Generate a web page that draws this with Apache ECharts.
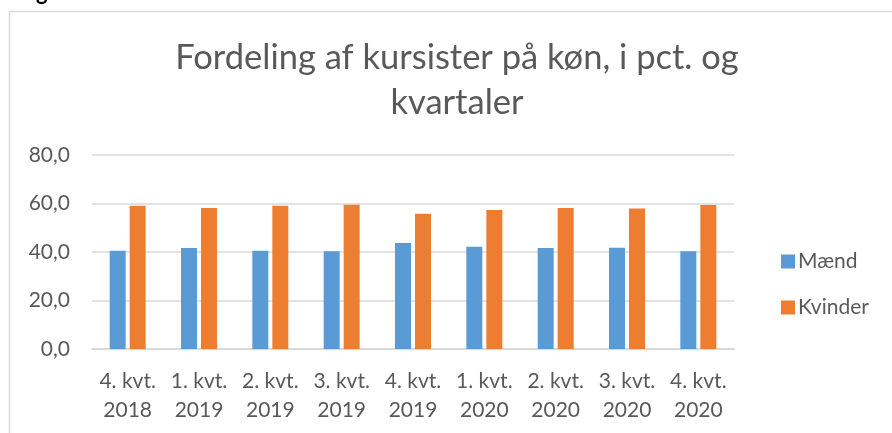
<!DOCTYPE html>
<html><head><meta charset="utf-8">
<script src="https://cdn.jsdelivr.net/npm/echarts@6/dist/echarts.min.js"></script>
<style>html,body{margin:0;padding:0;background:#fff}#c{width:892px;height:433px}</style>
</head><body><div id="c"></div>
<script>
var categories = ['4. kvt.\n2018','1. kvt.\n2019','2. kvt.\n2019','3. kvt.\n2019','4. kvt.\n2019','1. kvt.\n2020','2. kvt.\n2020','3. kvt.\n2020','4. kvt.\n2020'];
var maend = [40.5, 41.6, 40.5, 40.3, 43.7, 42.2, 41.7, 41.8, 40.3];
var kvinder = [59.1, 58.1, 59.1, 59.5, 55.8, 57.3, 58.1, 57.9, 59.4];
var yTicks = [0, 20, 40, 60, 80];

var font = 'Lato';
var chart = echarts.init(document.getElementById('c'), null, {renderer:'canvas'});
chart.setOption({
  animation:false,
  backgroundColor:'#fff',
  graphic:[
    {type:'rect', shape:{x:9.5,y:11.5,width:900,height:430}, style:{fill:'none', stroke:'#d9d9d9', lineWidth:1.5}},
    {type:'text', left:18, top:-18, style:{text:'Figur', font:'bold 22px Lato', fill:'#000'}}
  ],
  title:{
    text:'Fordeling af kursister på køn, i pct. og\nkvartaler',
    left:452, top:30, textAlign:'center',
    textStyle:{fontFamily:font, fontSize:34.5, fontWeight:'normal', color:'#595959', lineHeight:45}
  },
  legend:{
    orient:'vertical', left:776, top:246, itemGap:25,
    itemWidth:14, itemHeight:14, icon:'rect',
    textStyle:{fontFamily:font, fontSize:21, color:'#595959', padding:[0,0,0,-2]},
    data:['Mænd','Kvinder']
  },
  grid:{left:92, right:158, top:155, bottom:84, containLabel:false},
  xAxis:{
    type:'category', data:categories,
    axisLine:{lineStyle:{color:'#d9d9d9', width:2}},
    axisTick:{show:false},
    axisLabel:{fontFamily:font, fontSize:21, color:'#595959', lineHeight:29, margin:18, interval:0}
  },
  yAxis:{
    type:'value', min:0, max:80, interval:20,
    axisLine:{show:false}, axisTick:{show:false},
    splitLine:{lineStyle:{color:'#d9d9d9', width:1.5}},
    axisLabel:{fontFamily:font, fontSize:21, color:'#595959', margin:22,
      formatter:function(v){ return yTicks.indexOf(v)>=0 ? v.toFixed(1).replace('.',',') : ''; }}
  },
  series:[
    {name:'Mænd', type:'bar', data:maend, barWidth:16, barGap:'25%', itemStyle:{color:'#5b9bd5'}},
    {name:'Kvinder', type:'bar', data:kvinder, barWidth:16, itemStyle:{color:'#ed7d31'}}
  ]
});
</script></body></html>
